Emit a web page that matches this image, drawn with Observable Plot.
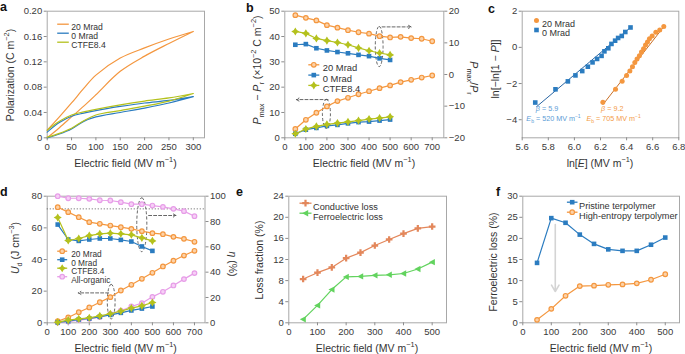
<!DOCTYPE html>
<html><head><meta charset="utf-8">
<script src="https://cdn.jsdelivr.net/npm/d3@7"></script>
<script src="https://cdn.jsdelivr.net/npm/@observablehq/plot@0.6"></script>
<style>
body{margin:0;background:#fff;}
#fig{position:relative;width:685px;height:354px;font-family:"Liberation Sans",Arial,sans-serif;color:#333;overflow:hidden;background:#fff}
.lab{position:absolute;font-size:10.5px;white-space:nowrap;color:#333;line-height:1}
.rot{transform:translate(-50%,-50%) rotate(-90deg)}
.rotcw{transform:translate(-50%,-50%) rotate(90deg)}
.ctr{transform:translate(-50%,-50%)}
.letter{position:absolute;font-weight:bold;font-size:12.5px;color:#111;line-height:1}
sup,sub{font-size:70%;line-height:0}
</style></head><body><div id="fig"></div>
<script>
// ---------- Panel a: P–E loops ----------
const aE = [0, 25, 50, 75, 100, 150, 200, 250, 300];
const a20Up = [0.012, 0.033, 0.055, 0.078, 0.099, 0.126, 0.142, 0.156, 0.168];
const a20Lo = [0.000, 0.016, 0.033, 0.050, 0.068, 0.105, 0.129, 0.149, 0.168];
const a0Up  = [0.009, 0.024, 0.034, 0.039, 0.043, 0.0495, 0.055, 0.059, 0.065];
const a0Lo  = [0.000, 0.006, 0.014, 0.026, 0.033, 0.040, 0.047, 0.055, 0.065];
const aCtUp = [0.012, 0.026, 0.036, 0.041, 0.045, 0.052, 0.058, 0.063, 0.070];
const aCtLo = [0.001, 0.007, 0.015, 0.027, 0.036, 0.043, 0.050, 0.058, 0.070];
const aXTicks = [0, 50, 100, 150, 200, 250, 300];
const aYTicks = [0, 0.04, 0.08, 0.12, 0.16, 0.20];

// ---------- Panel b ----------
const bE20 = [50,100,150,200,250,300,350,400,450,500,550,600,650,700];
const bE   = [50,100,150,200,250,300,350,400,450,500];
const b20Top = [18.75,17.9,17.1,15.6,14.8,14.0,13.35,12.9,12.1,11.7,11.9,11.5,11.3,10.5]; // right axis
const b0Top  = [9.4,9.6,8.3,7.6,7.1,6.7,6.2,5.8,5.1,4.6];
const bCtTop = [13.6,13.0,11.4,10.7,10.1,9.4,8.4,7.5,6.8,6.2];
const b20Bot = [3.5,7.1,9.9,12.4,14.5,15.8,17.2,18.4,19.6,20.7,22.0,22.9,23.8,24.6]; // left axis
const b0Bot  = [1.6,3.2,3.9,4.7,5.1,5.7,6.2,6.4,6.8,7.2];
const bCtBot = [1.6,3.5,4.5,5.3,5.8,6.3,6.8,7.4,7.8,8.3];
const bXTicks = [0,100,200,300,400,500,600,700];
const bYTicks = [0,10,20,30,40,50];
const bRTicks = [-20,-10,0,10,20];
// annotations (left-axis units)
const bEllipses = [{x1:432, x2:469, y1:27.9, y2:43.8}, {x1:181, x2:219, y1:3.5, y2:15.0}];
const bArrows = [{x1:462, x2:600, y1:43.8, y2:43.8}, {x1:205, x2:55, y1:15.1, y2:15.1}];

// ---------- Panel c: Weibull ----------
const c0X = [5.70,5.855,5.95,6.008,6.06,6.103,6.139,6.174,6.208,6.23,6.26,6.284,6.312,6.335,6.363,6.39,6.43];
const c0Y = [-3.05,-2.32,-1.88,-1.55,-1.31,-1.07,-0.83,-0.64,-0.47,-0.22,-0.05,0.19,0.37,0.52,0.63,0.85,1.10];
const c20X = [6.218,6.315,6.366,6.40,6.425,6.445,6.463,6.48,6.498,6.514,6.53,6.545,6.56,6.575,6.596,6.624,6.654,6.685];
const c20Y = [-3.04,-2.32,-1.88,-1.55,-1.31,-1.07,-0.83,-0.64,-0.46,-0.25,-0.07,0.13,0.30,0.47,0.63,0.83,0.96,1.15];
const c0Fit = {x:[5.71,6.43], y:[-3.28,1.10]};
const c20Fit = {x:[6.218,6.69], y:[-3.17,1.19]};
const cXTicks = [5.6,5.8,6.0,6.2,6.4,6.6,6.8];
const cYTicks = [-4,-2,0,2];
const cNotes = [
  {x:5.79, y:-3.40, t:"~{β} = 5.9", c:"blue"},
  {x:5.84, y:-3.95, t:"~{E}_{b} = 520 MV m^{−1}", c:"blue"},
  {x:6.29, y:-3.40, t:"~{β} = 9.2", c:"orange"},
  {x:6.30, y:-3.95, t:"~{E}_{b} = 705 MV m^{−1}", c:"orange"}
];

// ---------- Panel d ----------
const dE20 = [50,100,150,200,250,300,350,400,450,500,550,600,650,700];
const dE   = [50,100,150,200,250,300,350,400,450,500];
const d20Eta  = [91.3,87.4,83.4,79.5,78.2,76.8,75.5,74.2,72.4,70.8,70.0,67.9,66.3,64.0];
const d0Eta   = [77.6,65.8,64.7,65.8,66.6,66.6,65.5,64.2,60.3,56.8];
const dCtEta  = [83.2,65.0,66.6,68.9,70.3,70.8,70.3,69.5,67.1,64.7];
const dOrgEta = [100,98.4,98.4,97.9,96.8,96.6,95.3,93.7,93.7,92.6,91.6,90.0,88.2,84.2];
const d20U  = [1.0,3.4,6.7,9.7,13.0,16.2,20.4,24.0,27.8,31.6,35.6,39.2,42.5,45.5];
const d0U   = [0.2,1.0,2.1,2.7,3.8,5.0,6.3,7.8,9.0,10.3];
const dCtU  = [0.4,1.7,2.5,3.2,4.4,5.7,7.4,9.3,10.7,12.8];
const dOrgU = [0.2,0.8,1.7,2.5,3.6,5.7,7.6,10.3,12.4,16.4,19.6,23.6,27.6,31.4];
const dXTicks = [0,100,200,300,400,500,600,700];
const dYTicks = [0,20,40,60,80];
const dRTicks = [0,20,40,60,80,100];
const dEtaRef = [90];
const dEllipses = [{x1:428, x2:476, y1:44.6, y2:78.7}, {x1:288, x2:325, y1:2.1, y2:24.0}];
const dArrows = [{x1:482, x2:612, y1:67.8, y2:67.8}, {x1:292, x2:148, y1:18.9, y2:18.9}];

// ---------- Panel e ----------
const eE = [50,100,150,200,250,300,350,400,450,500];
const eCond  = [8.3,9.5,10.5,12.25,13.3,14.65,15.8,16.9,17.9,18.25];
const eFerro = [0.65,3.3,6.3,8.7,8.8,9.0,9.1,9.35,10.2,11.5];
const eXTicks = [0,100,200,300,400,500];
const eYTicks = [0,4,8,12,16,20,24];

// ---------- Panel f ----------
const fE = [50,100,150,200,250,300,350,400,450,500];
const fPristine = [14.2,24.8,23.7,20.9,18.7,17.4,17.05,17.05,18.5,20.2];
const fHigh     = [0.7,3.3,6.4,8.7,8.8,9.0,9.1,9.35,10.2,11.5];
const fXTicks = [0,100,200,300,400,500];
const fYTicks = [0,5,10,15,20,25,30];
const fArrow = [{x1:114, x2:114, y1:23.3, y2:7.4}];

// ---------- styling ----------
const FONT = '"Liberation Sans", Arial, sans-serif';
const C20 = "#f4973f", C20L = "#fcd2a8", C0 = "#2b7cc0", CCT = "#b4c11d", CORG = "#e79de8", CORGL = "#f6d0f6";
const CCOND = "#e3875b", CFERRO = "#62d35e";
const FR = "#a8a8a8";
const ax = {tickSize:3, tickPadding:2, stroke:"#8c8c8c", fill:"#3a3a3a", label:null, fontSize:9.5};
const minus = v => String(v).replace("-", "−");

const star4 = {draw(ctx, size){const r=Math.sqrt(size/Math.PI)*1.35, q=r*0.38;
  ctx.moveTo(0,-r); ctx.lineTo(q,-q); ctx.lineTo(r,0); ctx.lineTo(q,q); ctx.lineTo(0,r); ctx.lineTo(-q,q); ctx.lineTo(-r,0); ctx.lineTo(-q,-q); ctx.closePath();}};
const triLeft = {draw(ctx, size){const r=Math.sqrt(size/Math.PI)*1.2;
  ctx.moveTo(-r,0); ctx.lineTo(r*0.8,-r*0.95); ctx.lineTo(r*0.8,r*0.95); ctx.closePath();}};
const hline = {draw(ctx, size){const r=Math.sqrt(size/Math.PI); ctx.moveTo(-r,0); ctx.lineTo(r,0);}};

const rows = (xs, ys, f = v => v) => xs.map((x, i) => ({x, y: f(ys[i])}));
const sty = {
  s20:  {symbol:"circle", fill:C20L, stroke:C20, strokeWidth:1.2, r:2.3},
  s0:   {symbol:"square", fill:C0, stroke:"none", r:2.6},
  sCt:  {symbol:star4, fill:CCT, stroke:"none", r:3},
  sOrg: {symbol:"circle", fill:CORGL, stroke:CORG, strokeWidth:1.2, r:2.3},
  sCond:{symbol:"cross", fill:CCOND, stroke:"none", r:2.8},
  sFer: {symbol:triLeft, fill:CFERRO, stroke:"none", r:2.8},
};
function series(data, color, s, extra = {}) {
  return [
    Plot.line(data, {x:"x", y:"y", stroke:color, strokeWidth:1.2, ...extra}),
    Plot.dot(data, {x:"x", y:"y", ...s})
  ];
}
function legend(items, {x0, y0, step, half = 6, gap = 3, line = true, fs = 9.4}) {
  const m = [];
  items.forEach((it, i) => {
    const dy = y0 + i * step;
    if (line) m.push(Plot.dot([0], {frameAnchor:"top-left", dx:x0, dy, symbol:hline, r:half, stroke:it.color, strokeWidth:1.3, fill:"none"}));
    if (it.s) m.push(Plot.dot([0], {frameAnchor:"top-left", dx:x0, dy, ...it.s}));
    m.push(Plot.text([it.label], {frameAnchor:"top-left", dx:x0 + half + gap, dy, text:d => d, textAnchor:"start", fontSize:fs, fill:"#333"}));
  });
  return m;
}
function richify(root) {
  root.querySelectorAll("text").forEach(t => {
    const s = t.textContent; if (!/[_^~]\{/.test(s)) return;
    t.textContent = "";
    const re = /([_^~])\{([^}]*)\}|([^_^~]+|[_^~])/g; let m, shift = 0;
    while ((m = re.exec(s))) {
      const ts = document.createElementNS("http://www.w3.org/2000/svg", "tspan");
      let target = 0;
      if (m[1]) {
        if (m[1] === "_") { target = 2; ts.setAttribute("font-size", "70%"); }
        else if (m[1] === "^") { target = -3; ts.setAttribute("font-size", "70%"); }
        else ts.setAttribute("font-style", "italic");
        ts.textContent = m[2];
      } else ts.textContent = m[3];
      if (target !== shift) { ts.setAttribute("dy", target - shift); shift = target; }
      t.appendChild(ts);
    }
  });
}
const fig = document.getElementById("fig");
function panel({left, top, width, height, ml, mr, mt, mb, x, y, marks}) {
  const svg = Plot.plot({width, height, marginLeft:ml, marginRight:mr, marginTop:mt, marginBottom:mb,
    x:{domain:x}, y:{domain:y},
    style:{fontFamily:FONT, fontSize:"9.5px", background:"transparent", overflow:"visible", color:"#333"},
    marks});
  svg.style.position = "absolute"; svg.style.left = left + "px"; svg.style.top = top + "px";
  richify(svg); fig.appendChild(svg);
}
function label(html, x, y, cls = "ctr", size) {
  const d = document.createElement("div"); d.className = "lab " + cls;
  d.style.left = x + "px"; d.style.top = y + "px"; d.innerHTML = html;
  if (size) d.style.fontSize = size + "px"; fig.appendChild(d);
}
function letter(t, x, y) {
  const d = document.createElement("div"); d.className = "letter";
  d.style.left = x + "px"; d.style.top = y + "px"; d.textContent = t; fig.appendChild(d);
}
const loop = (up, lo) => [...rows(aE, lo), ...rows(aE, up).reverse()];

// ---------- draw a ----------
panel({left:0, top:0, width:230, height:175, ml:46.7, mr:26, mt:10.7, mb:37.7, x:[0,323], y:[0,0.2], marks:[
  Plot.frame({stroke:FR}),
  Plot.axisX({ticks:aXTicks, ...ax}),
  Plot.axisY({ticks:aYTicks, tickFormat:d => d === 0 ? "0" : d.toFixed(2), ...ax}),
  Plot.line(loop(a20Up, a20Lo), {x:"x", y:"y", stroke:C20, strokeWidth:1.2, curve:"catmull-rom"}),
  Plot.line(loop(a0Up, a0Lo), {x:"x", y:"y", stroke:C0, strokeWidth:1.2, curve:"catmull-rom"}),
  Plot.line(loop(aCtUp, aCtLo), {x:"x", y:"y", stroke:CCT, strokeWidth:1.2, curve:"catmull-rom"}),
  ...legend([{label:"20 Mrad", color:C20}, {label:"0 Mrad", color:C0}, {label:"CTFE8.4", color:CCT}], {x0:15.8, y0:13, step:9.0, half:5.8, gap:2.5, fs:8.6})
]});

// ---------- draw b ----------
const toB = r => (r + 20) * 1.25;
panel({left:225, top:0, width:260, height:175, ml:59.3, mr:41.7, mt:10.7, mb:37.7, x:[0,755], y:[0,50], marks:[
  Plot.frame({stroke:FR}),
  Plot.axisX({ticks:bXTicks, ...ax}),
  Plot.axisY({ticks:bYTicks, ...ax}),
  Plot.axisY(bRTicks.map(toB), {anchor:"right", tickFormat:d => minus(Math.round(d / 1.25 - 20)), ...ax}),
  ...bEllipses.map(e => Plot.rect([e], {x1:"x1", x2:"x2", y1:"y1", y2:"y2", rx:60, ry:60, fill:"none", stroke:"#555", strokeWidth:0.9, strokeDasharray:"3,2"})),
  Plot.arrow(bArrows, {x1:"x1", y1:"y1", x2:"x2", y2:"y2", stroke:"#555", strokeWidth:0.9, strokeDasharray:"3,2", headLength:5}),
  ...series(rows(bE20, b20Top, toB), C20, sty.s20),
  ...series(rows(bE, b0Top, toB), C0, sty.s0),
  ...series(rows(bE, bCtTop, toB), CCT, sty.sCt),
  ...series(rows(bE20, b20Bot), C20, sty.s20),
  ...series(rows(bE, b0Bot), C0, sty.s0),
  ...series(rows(bE, bCtBot), CCT, sty.sCt),
  ...legend([{label:"20 Mrad", color:C20, s:sty.s20}, {label:"0 Mrad", color:C0, s:sty.s0}, {label:"CTFE8.4", color:CCT, s:sty.sCt}], {x0:29, y0:53.6, step:10.3, half:5.5, gap:3.5})
]});

// ---------- draw c ----------
panel({left:460, top:0, width:225, height:175, ml:61.7, mr:6.7, mt:10.7, mb:37.7, x:[5.6,6.8], y:[-5,2], marks:[
  Plot.frame({stroke:FR}),
  Plot.axisX({ticks:cXTicks, tickFormat:d => d.toFixed(1), ...ax}),
  Plot.axisY({ticks:cYTicks, tickFormat:minus, ...ax}),
  Plot.line(rows(c0Fit.x, c0Fit.y), {x:"x", y:"y", stroke:"#2a66a3", strokeWidth:1}),
  Plot.line(rows(c20Fit.x, c20Fit.y), {x:"x", y:"y", stroke:"#c96f26", strokeWidth:1}),
  Plot.dot(rows(c0X, c0Y), {x:"x", y:"y", symbol:"square", fill:C0, r:2.6}),
  Plot.dot(rows(c20X, c20Y), {x:"x", y:"y", symbol:"circle", fill:C20, r:2.5}),
  Plot.text(cNotes, {x:"x", y:"y", text:"t", fill:d => d.c === "blue" ? "#5a9bd6" : "#f39a46", fontSize:7.2, textAnchor:"middle"}),
  ...legend([{label:"20 Mrad", color:C20, s:{symbol:"circle", fill:C20, r:2.5}}, {label:"0 Mrad", color:C0, s:{symbol:"square", fill:C0, r:2.6}}], {x0:14.3, y0:9.3, step:9.5, half:2, gap:3.5, line:false, fs:9})
]});

// ---------- draw d ----------
const toD = v => v * 0.8;
panel({left:0, top:175, width:240, height:179, ml:46.7, mr:35.5, mt:20.7, mb:31.7, x:[0,750], y:[0,80], marks:[
  Plot.frame({stroke:FR}),
  Plot.axisX({ticks:dXTicks, ...ax}),
  Plot.axisY({ticks:dYTicks, ...ax}),
  Plot.axisY(dRTicks.map(toD), {anchor:"right", tickFormat:d => Math.round(d / 0.8), ...ax}),
  Plot.ruleY(dEtaRef.map(toD), {stroke:"#555", strokeWidth:0.8, strokeDasharray:"1.2,1.8"}),
  ...dEllipses.map(e => Plot.rect([e], {x1:"x1", x2:"x2", y1:"y1", y2:"y2", rx:60, ry:60, fill:"none", stroke:"#555", strokeWidth:0.9, strokeDasharray:"3,2"})),
  Plot.arrow(dArrows, {x1:"x1", y1:"y1", x2:"x2", y2:"y2", stroke:"#555", strokeWidth:0.9, strokeDasharray:"3,2", headLength:5}),
  ...series(rows(dE20, dOrgEta, toD), CORG, sty.sOrg),
  ...series(rows(dE20, d20Eta, toD), C20, sty.s20),
  ...series(rows(dE, d0Eta, toD), C0, sty.s0),
  ...series(rows(dE, dCtEta, toD), CCT, sty.sCt),
  ...series(rows(dE20, dOrgU), CORG, sty.sOrg),
  ...series(rows(dE20, d20U), C20, sty.s20),
  ...series(rows(dE, d0U), C0, sty.s0),
  ...series(rows(dE, dCtU), CCT, sty.sCt),
  ...legend([{label:"20 Mrad", color:C20, s:sty.s20}, {label:"0 Mrad", color:C0, s:sty.s0}, {label:"CTFE8.4", color:CCT, s:sty.sCt}, {label:"All-organic", color:CORG, s:sty.sOrg}], {x0:15, y0:55, step:8.5, half:5, gap:4, fs:8.3})
]});

// ---------- draw e ----------
panel({left:240, top:175, width:220, height:179, ml:48.3, mr:14, mt:20.7, mb:31.7, x:[0,550], y:[0,24], marks:[
  Plot.frame({stroke:FR}),
  Plot.axisX({ticks:eXTicks, ...ax}),
  Plot.axisY({ticks:eYTicks, ...ax}),
  ...series(rows(eE, eCond), CCOND, sty.sCond),
  ...series(rows(eE, eFerro), CFERRO, sty.sFer),
  ...legend([{label:"Conductive loss", color:CCOND, s:sty.sCond}, {label:"Ferroelectric loss", color:CFERRO, s:sty.sFer}], {x0:16.7, y0:7, step:10, half:6, gap:1.5, fs:9.2})
]});

// ---------- draw f ----------
panel({left:470, top:175, width:215, height:179, ml:52.3, mr:6, mt:20.7, mb:31.7, x:[0,550], y:[0,30], marks:[
  Plot.frame({stroke:FR}),
  Plot.axisX({ticks:fXTicks, ...ax}),
  Plot.axisY({ticks:fYTicks, ...ax}),
  Plot.arrow(fArrow, {x1:"x1", y1:"y1", x2:"x2", y2:"y2", stroke:"#d4d4d4", strokeWidth:1.6, headLength:7}),
  ...series(rows(fE, fPristine), C0, sty.s0),
  ...series(rows(fE, fHigh), C20, sty.s20),
  ...legend([{label:"Pristine terpolymer", color:C0, s:sty.s0}, {label:"High-entropy terpolymer", color:C20, s:sty.s20}], {x0:49.4, y0:6, step:10, half:5.3, gap:1.5, fs:9.2})
]});

// ---------- HTML labels ----------
const EF = "Electric field (MV m<sup>−1</sup>)";
label(EF, 125.5, 163); label(EF, 364, 163); label("ln[<i>E</i>] (MV m<sup>−1</sup>)", 600, 163);
label(EF, 125.6, 348); label(EF, 367, 348); label(EF, 601, 348);
label("Polarization (C m<sup>−2</sup>)", 10, 75, "rot");
label("<i>P</i><sub>max</sub> − <i>P</i><sub>r</sub> (×10<sup>−2</sup> C m<sup>−2</sup>)", 257, 70, "rot");
label("ln[−ln[1 − <i>P</i>]]", 494.5, 69, "rot");
label("<i>P</i><sub>max</sub>/<i>P</i><sub>r</sub>", 474, 78, "rotcw");
label("<i>U</i><sub>d</sub> (J cm<sup>−3</sup>)", 15, 248, "rot");
label("<i>η</i> (%)", 233, 264, "rotcw");
label("Loss fraction (%)", 259, 260, "rot");
label("Ferroelectric loss (%)", 493, 262, "rot");
letter("a", 0, 1); letter("b", 246, 2); letter("c", 488, 3);
letter("d", 0, 186); letter("e", 236, 186); letter("f", 496, 186);
</script></body></html>
